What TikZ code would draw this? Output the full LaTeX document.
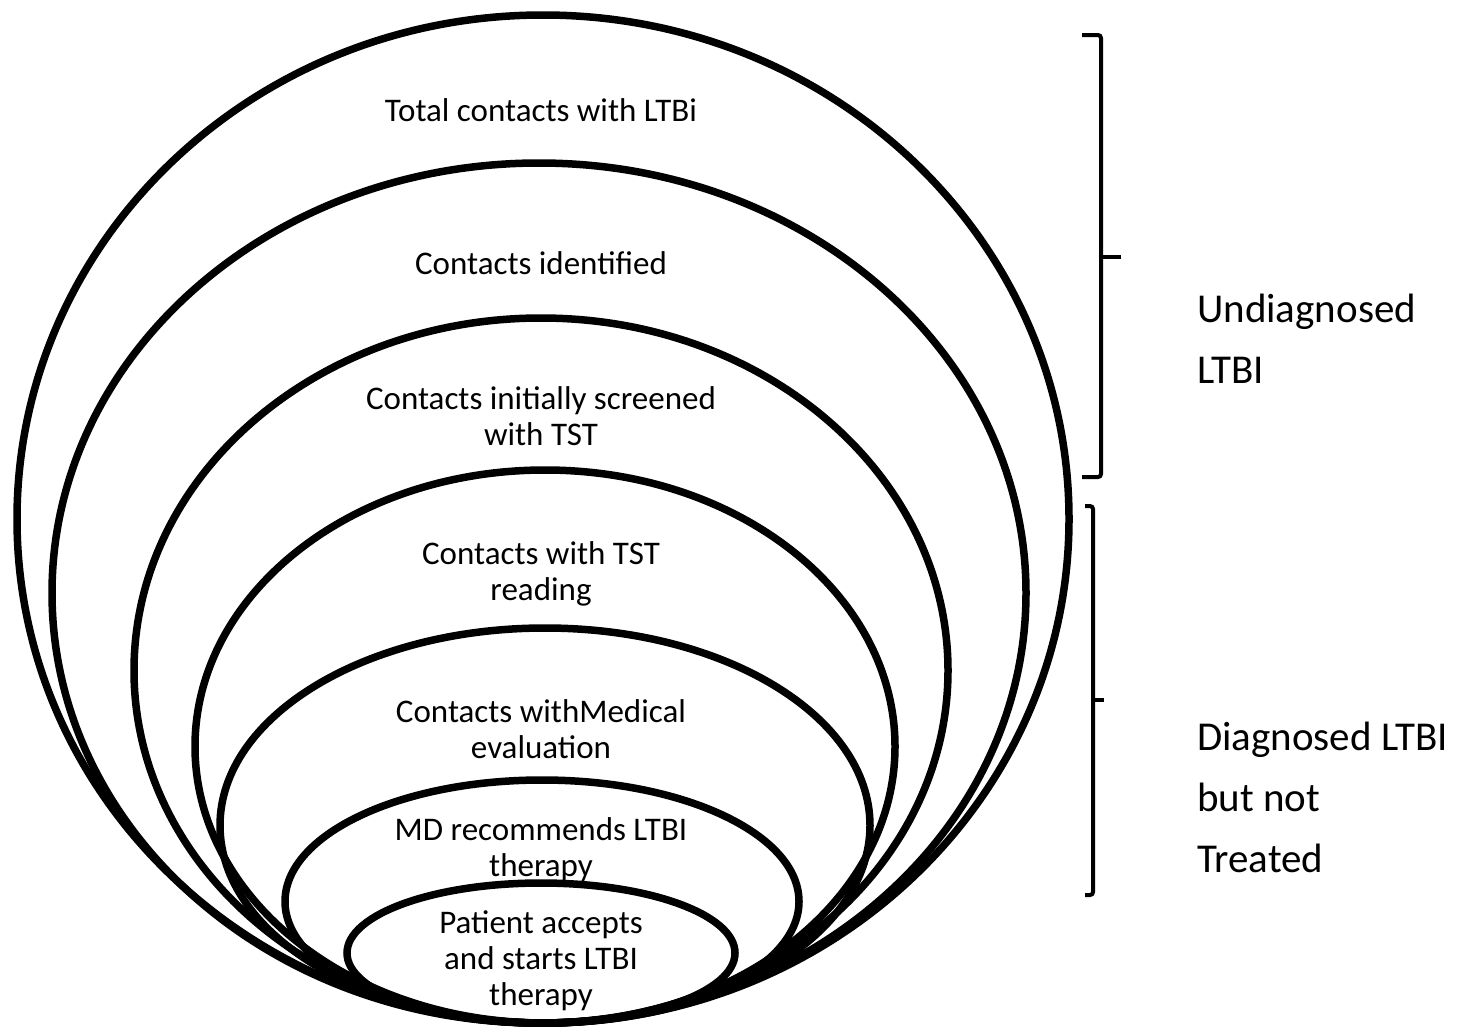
\documentclass[tikz,border=0pt]{standalone}
\usepackage{fontspec}
\setmainfont{Carlito}
\usetikzlibrary{shapes.geometric}
\begin{document}
\begin{tikzpicture}[x=1pt,y=-1pt,
  ring/.style={draw, ellipse, line width=7.5pt, inner sep=0pt, outer sep=0pt},
  lbl/.style={align=center, font=\fontsize{33}{36}\selectfont, inner sep=0pt},
  side/.style={align=left, font=\fontsize{41}{61}\selectfont, inner sep=0pt, anchor=west},
  brk/.style={line width=4pt, rounded corners=3pt}]
\useasboundingbox (0,0) rectangle (1463,1034);
% nested ellipses, all touching at the bottom
\node[ring, minimum width=1052pt, minimum height=1008pt] (e1) at (543,519) {};
\node[ring, minimum width=974pt,  minimum height=860pt]  (e2) at (539,593) {};
\node[ring, minimum width=814pt,  minimum height=705pt]  (e3) at (541,670.5) {};
\node[ring, minimum width=700pt,  minimum height=553pt]  (e4) at (545,746.5) {};
\node[ring, minimum width=650pt,  minimum height=395pt]  (e5) at (545,825.5) {};
\node[ring, minimum width=514pt,  minimum height=243pt]  (e6) at (542,901.5) {};
\node[ring, minimum width=388pt,  minimum height=140pt]  (e7) at (541,953) {};
% labels
\node[lbl] (t1) at (541,110) {Total contacts with LTBi};
\node[lbl] (t2) at (541,263) {Contacts identified};
\node[lbl] (t3) at (541,416) {Contacts initially screened\\with TST};
\node[lbl] (t4) at (541,574) {Contacts with TST\\reading};
\node[lbl] (t5) at (541,729) {Contacts withMedical\\evaluation};
\node[lbl] (t6) at (541,850) {MD recommends LTBI\\therapy};
\node[lbl] (t7) at (541,961) {Patient accepts\\and starts LTBI\\therapy};
% brackets
\draw[brk] (1082,35) -- (1101,35) -- (1101,477) -- (1082,477);
\draw[brk] (1101,257) -- (1121,257);
\draw[brk] (1085,506) -- (1093,506) -- (1093,895) -- (1085,895);
\draw[brk] (1093,700) -- (1104,700);
% side labels
\node[side] (s1) at (1197,339) {Undiagnosed\\LTBI};
\node[side] (s2) at (1197,797) {Diagnosed LTBI\\but not\\Treated};
\end{tikzpicture}
\end{document}
